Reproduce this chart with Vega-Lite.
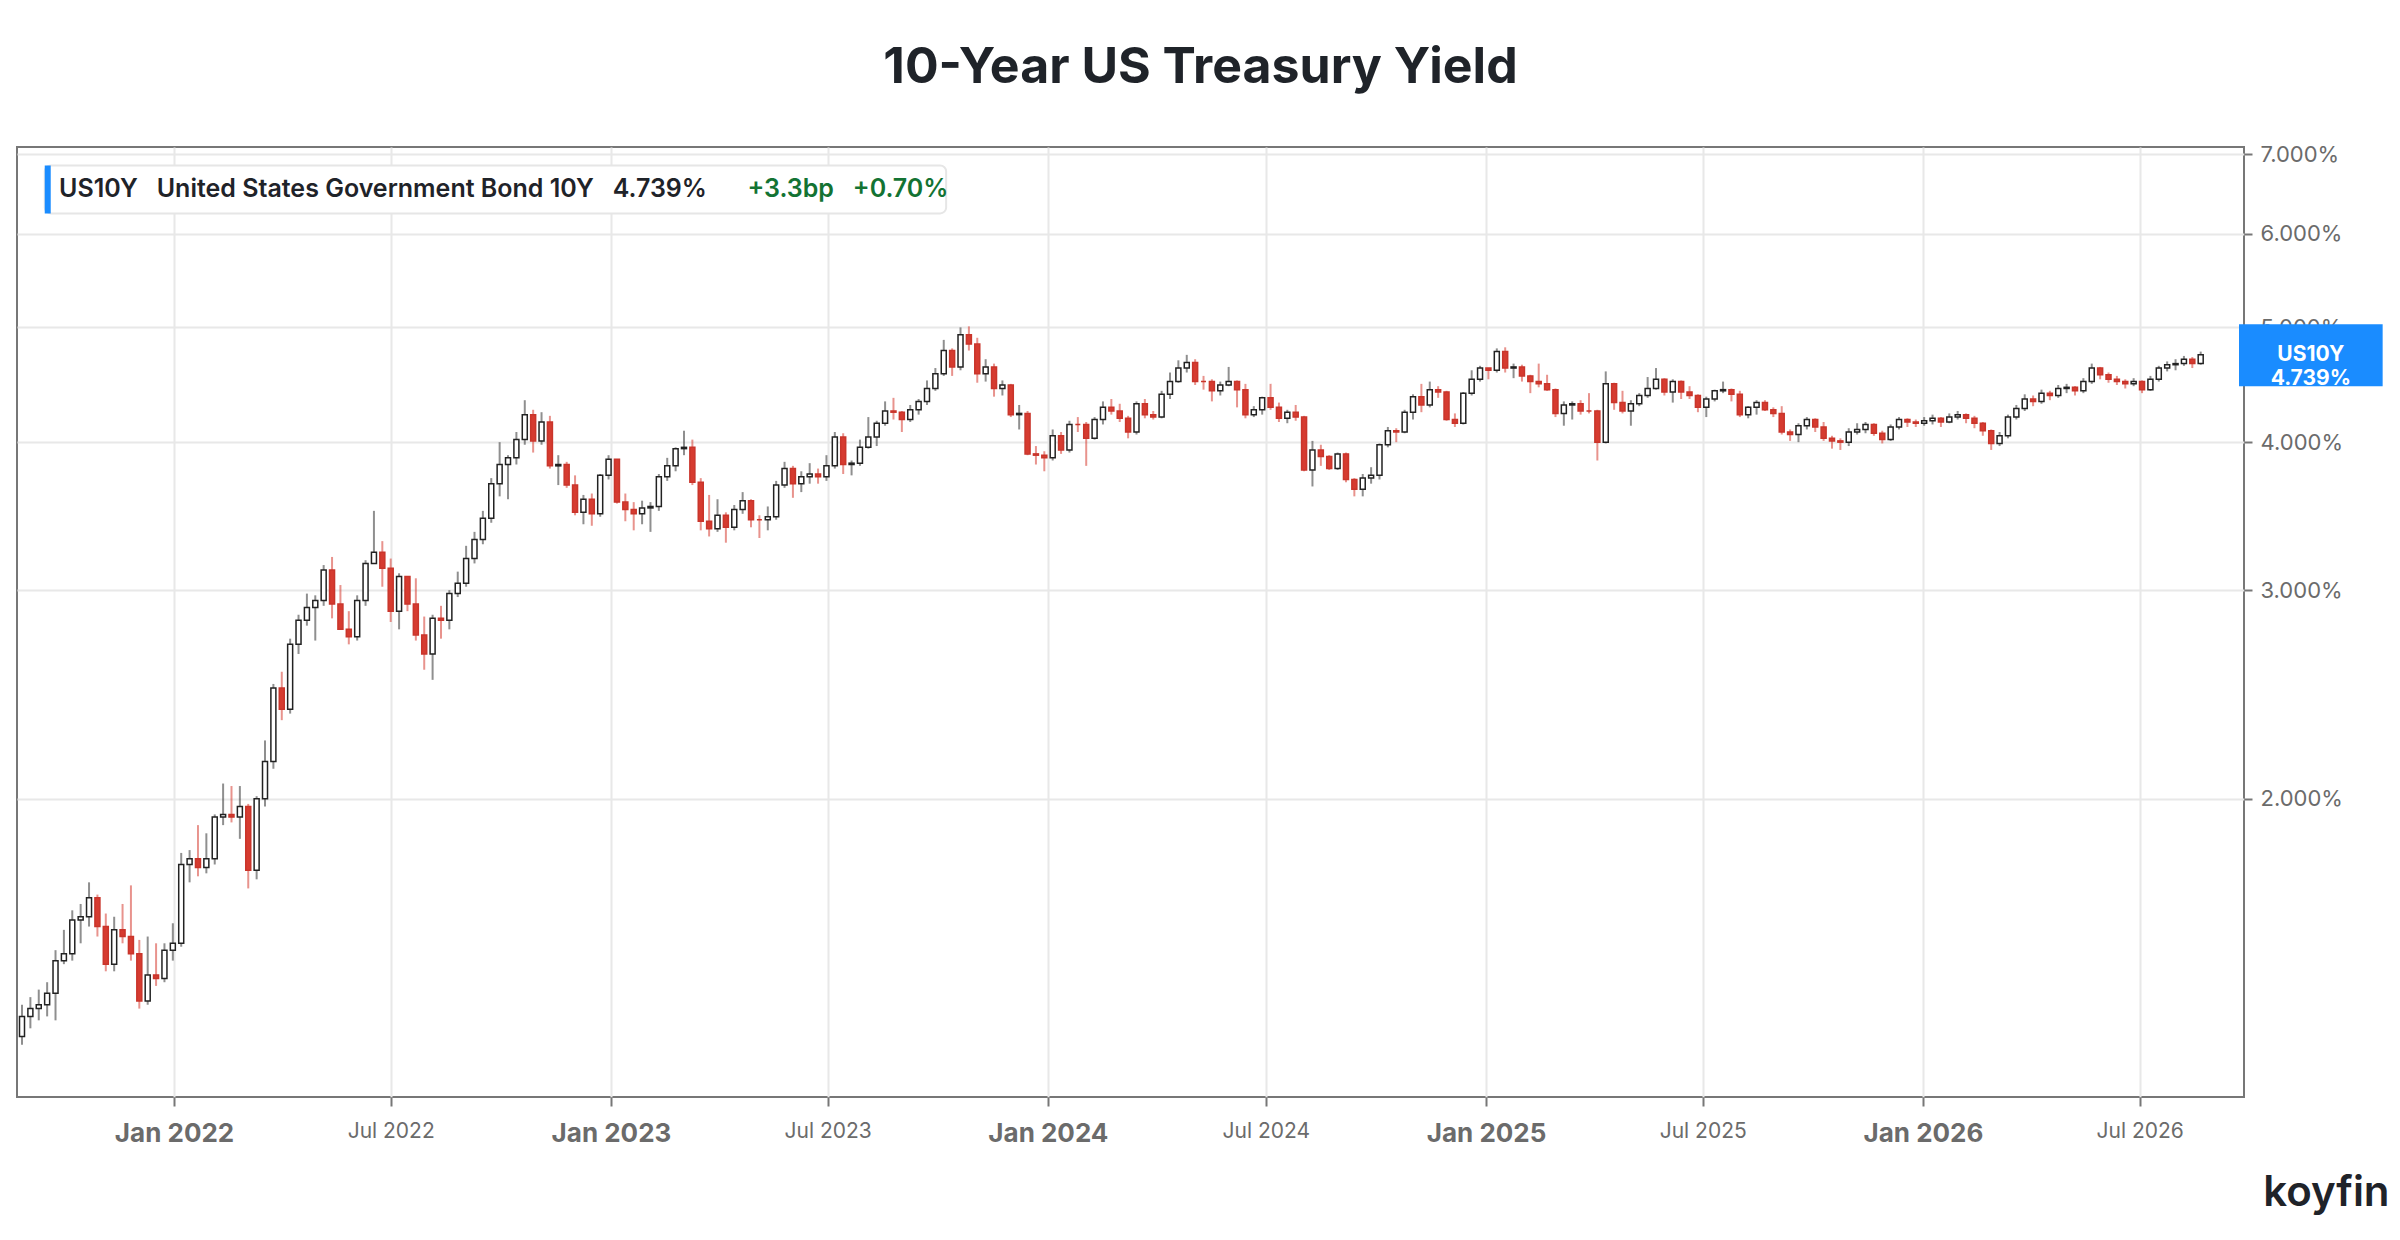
{
  "$schema": "https://vega.github.io/schema/vega-lite/v6.json",
  "width": 2227,
  "height": 950,
  "autosize": "none",
  "padding": {"left": 17, "top": 147, "right": 156, "bottom": 143},
  "background": "#ffffff",
  "title": {"text": "10-Year US Treasury Yield", "font": "Inter", "fontSize": 50, "fontWeight": 700, "color": "#1f2329", "anchor": "middle", "offset": 50, "dx": 70},
  "config": {"view": {"stroke": "#777777", "strokeWidth": 2}, "font": "Inter"},
  "datasets": {
    "candles": [
      {"d":"2021-08-20","o":1.24,"h":1.29,"l":1.22,"c":1.26},
      {"d":"2021-08-27","o":1.26,"h":1.34,"l":1.24,"c":1.31},
      {"d":"2021-09-03","o":1.31,"h":1.36,"l":1.28,"c":1.33},
      {"d":"2021-09-10","o":1.33,"h":1.38,"l":1.30,"c":1.34},
      {"d":"2021-09-17","o":1.34,"h":1.40,"l":1.31,"c":1.37},
      {"d":"2021-09-24","o":1.37,"h":1.49,"l":1.30,"c":1.46},
      {"d":"2021-10-01","o":1.46,"h":1.55,"l":1.45,"c":1.48},
      {"d":"2021-10-08","o":1.48,"h":1.61,"l":1.46,"c":1.58},
      {"d":"2021-10-15","o":1.58,"h":1.63,"l":1.51,"c":1.59},
      {"d":"2021-10-22","o":1.59,"h":1.70,"l":1.56,"c":1.65},
      {"d":"2021-10-29","o":1.65,"h":1.66,"l":1.53,"c":1.56},
      {"d":"2021-11-05","o":1.56,"h":1.60,"l":1.43,"c":1.45},
      {"d":"2021-11-12","o":1.45,"h":1.59,"l":1.43,"c":1.55},
      {"d":"2021-11-19","o":1.55,"h":1.63,"l":1.51,"c":1.53},
      {"d":"2021-11-26","o":1.53,"h":1.69,"l":1.46,"c":1.48},
      {"d":"2021-12-03","o":1.48,"h":1.52,"l":1.33,"c":1.35},
      {"d":"2021-12-10","o":1.35,"h":1.53,"l":1.34,"c":1.42},
      {"d":"2021-12-17","o":1.42,"h":1.51,"l":1.39,"c":1.41},
      {"d":"2021-12-24","o":1.41,"h":1.51,"l":1.40,"c":1.49},
      {"d":"2021-12-31","o":1.49,"h":1.57,"l":1.46,"c":1.51},
      {"d":"2022-01-07","o":1.51,"h":1.80,"l":1.50,"c":1.76},
      {"d":"2022-01-14","o":1.76,"h":1.81,"l":1.70,"c":1.78},
      {"d":"2022-01-21","o":1.78,"h":1.90,"l":1.72,"c":1.75},
      {"d":"2022-01-28","o":1.75,"h":1.87,"l":1.73,"c":1.78},
      {"d":"2022-02-04","o":1.78,"h":1.94,"l":1.76,"c":1.93},
      {"d":"2022-02-11","o":1.93,"h":2.06,"l":1.90,"c":1.94},
      {"d":"2022-02-18","o":1.94,"h":2.05,"l":1.91,"c":1.93},
      {"d":"2022-02-25","o":1.93,"h":2.05,"l":1.85,"c":1.97},
      {"d":"2022-03-04","o":1.97,"h":1.98,"l":1.68,"c":1.74},
      {"d":"2022-03-11","o":1.74,"h":2.01,"l":1.71,"c":2.00},
      {"d":"2022-03-18","o":2.00,"h":2.24,"l":1.97,"c":2.15},
      {"d":"2022-03-25","o":2.15,"h":2.50,"l":2.12,"c":2.48},
      {"d":"2022-04-01","o":2.48,"h":2.56,"l":2.33,"c":2.38},
      {"d":"2022-04-08","o":2.38,"h":2.73,"l":2.36,"c":2.70},
      {"d":"2022-04-15","o":2.70,"h":2.86,"l":2.65,"c":2.83},
      {"d":"2022-04-22","o":2.83,"h":2.98,"l":2.80,"c":2.90},
      {"d":"2022-04-29","o":2.90,"h":2.97,"l":2.72,"c":2.94},
      {"d":"2022-05-06","o":2.94,"h":3.15,"l":2.91,"c":3.12},
      {"d":"2022-05-13","o":3.12,"h":3.20,"l":2.84,"c":2.92},
      {"d":"2022-05-20","o":2.92,"h":3.03,"l":2.78,"c":2.78},
      {"d":"2022-05-27","o":2.78,"h":2.88,"l":2.70,"c":2.74},
      {"d":"2022-06-03","o":2.74,"h":2.97,"l":2.72,"c":2.94},
      {"d":"2022-06-10","o":2.94,"h":3.18,"l":2.91,"c":3.16},
      {"d":"2022-06-17","o":3.16,"h":3.50,"l":3.16,"c":3.23},
      {"d":"2022-06-24","o":3.23,"h":3.30,"l":3.02,"c":3.13},
      {"d":"2022-07-01","o":3.13,"h":3.19,"l":2.82,"c":2.88},
      {"d":"2022-07-08","o":2.88,"h":3.10,"l":2.78,"c":3.08},
      {"d":"2022-07-15","o":3.08,"h":3.07,"l":2.88,"c":2.92},
      {"d":"2022-07-22","o":2.92,"h":3.07,"l":2.72,"c":2.75},
      {"d":"2022-07-29","o":2.75,"h":2.85,"l":2.57,"c":2.65},
      {"d":"2022-08-05","o":2.65,"h":2.86,"l":2.52,"c":2.84},
      {"d":"2022-08-12","o":2.84,"h":2.91,"l":2.73,"c":2.83},
      {"d":"2022-08-19","o":2.83,"h":3.00,"l":2.78,"c":2.98},
      {"d":"2022-08-26","o":2.98,"h":3.11,"l":2.96,"c":3.04},
      {"d":"2022-09-02","o":3.04,"h":3.27,"l":3.02,"c":3.19},
      {"d":"2022-09-09","o":3.19,"h":3.36,"l":3.16,"c":3.31},
      {"d":"2022-09-16","o":3.31,"h":3.50,"l":3.28,"c":3.45},
      {"d":"2022-09-23","o":3.45,"h":3.73,"l":3.42,"c":3.69},
      {"d":"2022-09-30","o":3.69,"h":4.00,"l":3.60,"c":3.83},
      {"d":"2022-10-07","o":3.83,"h":3.90,"l":3.58,"c":3.88},
      {"d":"2022-10-14","o":3.88,"h":4.08,"l":3.83,"c":4.02},
      {"d":"2022-10-21","o":4.02,"h":4.34,"l":3.98,"c":4.22},
      {"d":"2022-10-28","o":4.22,"h":4.26,"l":3.92,"c":4.01},
      {"d":"2022-11-04","o":4.01,"h":4.24,"l":3.98,"c":4.16},
      {"d":"2022-11-11","o":4.16,"h":4.21,"l":3.80,"c":3.82},
      {"d":"2022-11-18","o":3.82,"h":3.90,"l":3.68,"c":3.83},
      {"d":"2022-11-25","o":3.83,"h":3.85,"l":3.66,"c":3.68},
      {"d":"2022-12-02","o":3.68,"h":3.75,"l":3.47,"c":3.49},
      {"d":"2022-12-09","o":3.49,"h":3.61,"l":3.41,"c":3.58},
      {"d":"2022-12-16","o":3.58,"h":3.62,"l":3.40,"c":3.48},
      {"d":"2022-12-23","o":3.48,"h":3.76,"l":3.46,"c":3.75},
      {"d":"2022-12-30","o":3.75,"h":3.90,"l":3.72,"c":3.87},
      {"d":"2023-01-06","o":3.87,"h":3.81,"l":3.55,"c":3.56},
      {"d":"2023-01-13","o":3.56,"h":3.62,"l":3.43,"c":3.51},
      {"d":"2023-01-20","o":3.51,"h":3.56,"l":3.37,"c":3.48},
      {"d":"2023-01-27","o":3.48,"h":3.57,"l":3.41,"c":3.52},
      {"d":"2023-02-03","o":3.52,"h":3.56,"l":3.36,"c":3.53},
      {"d":"2023-02-10","o":3.53,"h":3.76,"l":3.50,"c":3.74},
      {"d":"2023-02-17","o":3.74,"h":3.88,"l":3.71,"c":3.82},
      {"d":"2023-02-24","o":3.82,"h":3.96,"l":3.78,"c":3.95},
      {"d":"2023-03-03","o":3.95,"h":4.09,"l":3.90,"c":3.96},
      {"d":"2023-03-10","o":3.96,"h":4.02,"l":3.68,"c":3.70},
      {"d":"2023-03-17","o":3.70,"h":3.73,"l":3.37,"c":3.43},
      {"d":"2023-03-24","o":3.43,"h":3.61,"l":3.33,"c":3.38},
      {"d":"2023-03-31","o":3.38,"h":3.58,"l":3.36,"c":3.47},
      {"d":"2023-04-07","o":3.47,"h":3.49,"l":3.29,"c":3.39},
      {"d":"2023-04-14","o":3.39,"h":3.54,"l":3.37,"c":3.51},
      {"d":"2023-04-21","o":3.51,"h":3.63,"l":3.48,"c":3.57},
      {"d":"2023-04-28","o":3.57,"h":3.58,"l":3.39,"c":3.44},
      {"d":"2023-05-05","o":3.44,"h":3.47,"l":3.32,"c":3.44},
      {"d":"2023-05-12","o":3.44,"h":3.53,"l":3.37,"c":3.46},
      {"d":"2023-05-19","o":3.46,"h":3.71,"l":3.44,"c":3.68},
      {"d":"2023-05-26","o":3.68,"h":3.85,"l":3.66,"c":3.80},
      {"d":"2023-06-02","o":3.80,"h":3.82,"l":3.59,"c":3.69},
      {"d":"2023-06-09","o":3.69,"h":3.78,"l":3.63,"c":3.74},
      {"d":"2023-06-16","o":3.74,"h":3.84,"l":3.69,"c":3.76},
      {"d":"2023-06-23","o":3.76,"h":3.80,"l":3.69,"c":3.74},
      {"d":"2023-06-30","o":3.74,"h":3.90,"l":3.71,"c":3.82},
      {"d":"2023-07-07","o":3.82,"h":4.08,"l":3.80,"c":4.04},
      {"d":"2023-07-14","o":4.04,"h":4.07,"l":3.76,"c":3.83},
      {"d":"2023-07-21","o":3.83,"h":3.86,"l":3.75,"c":3.84},
      {"d":"2023-07-28","o":3.84,"h":4.02,"l":3.82,"c":3.96},
      {"d":"2023-08-04","o":3.96,"h":4.20,"l":3.95,"c":4.04},
      {"d":"2023-08-11","o":4.04,"h":4.17,"l":3.97,"c":4.15},
      {"d":"2023-08-18","o":4.15,"h":4.33,"l":4.13,"c":4.25},
      {"d":"2023-08-25","o":4.25,"h":4.36,"l":4.18,"c":4.24},
      {"d":"2023-09-01","o":4.24,"h":4.25,"l":4.08,"c":4.18},
      {"d":"2023-09-08","o":4.18,"h":4.30,"l":4.16,"c":4.26},
      {"d":"2023-09-15","o":4.26,"h":4.35,"l":4.22,"c":4.33},
      {"d":"2023-09-22","o":4.33,"h":4.51,"l":4.30,"c":4.44},
      {"d":"2023-09-29","o":4.44,"h":4.62,"l":4.42,"c":4.57},
      {"d":"2023-10-06","o":4.57,"h":4.88,"l":4.55,"c":4.78},
      {"d":"2023-10-13","o":4.78,"h":4.80,"l":4.55,"c":4.63},
      {"d":"2023-10-20","o":4.63,"h":5.00,"l":4.60,"c":4.93},
      {"d":"2023-10-27","o":4.93,"h":5.01,"l":4.78,"c":4.84},
      {"d":"2023-11-03","o":4.84,"h":4.90,"l":4.49,"c":4.57},
      {"d":"2023-11-10","o":4.57,"h":4.70,"l":4.50,"c":4.63},
      {"d":"2023-11-17","o":4.63,"h":4.66,"l":4.37,"c":4.44},
      {"d":"2023-11-24","o":4.44,"h":4.51,"l":4.38,"c":4.47},
      {"d":"2023-12-01","o":4.47,"h":4.48,"l":4.20,"c":4.22},
      {"d":"2023-12-08","o":4.22,"h":4.30,"l":4.10,"c":4.23},
      {"d":"2023-12-15","o":4.23,"h":4.25,"l":3.90,"c":3.91},
      {"d":"2023-12-22","o":3.91,"h":3.97,"l":3.83,"c":3.90},
      {"d":"2023-12-29","o":3.90,"h":3.93,"l":3.78,"c":3.88},
      {"d":"2024-01-05","o":3.88,"h":4.10,"l":3.86,"c":4.05},
      {"d":"2024-01-12","o":4.05,"h":4.08,"l":3.91,"c":3.94},
      {"d":"2024-01-19","o":3.94,"h":4.17,"l":3.92,"c":4.14},
      {"d":"2024-01-26","o":4.14,"h":4.20,"l":4.08,"c":4.14},
      {"d":"2024-02-02","o":4.14,"h":4.16,"l":3.82,"c":4.03},
      {"d":"2024-02-09","o":4.03,"h":4.20,"l":4.02,"c":4.18},
      {"d":"2024-02-16","o":4.18,"h":4.33,"l":4.14,"c":4.28},
      {"d":"2024-02-23","o":4.28,"h":4.35,"l":4.22,"c":4.25},
      {"d":"2024-03-01","o":4.25,"h":4.31,"l":4.16,"c":4.19},
      {"d":"2024-03-08","o":4.19,"h":4.21,"l":4.03,"c":4.08},
      {"d":"2024-03-15","o":4.08,"h":4.33,"l":4.06,"c":4.31},
      {"d":"2024-03-22","o":4.31,"h":4.35,"l":4.19,"c":4.22},
      {"d":"2024-03-29","o":4.22,"h":4.25,"l":4.18,"c":4.20},
      {"d":"2024-04-05","o":4.20,"h":4.42,"l":4.19,"c":4.39},
      {"d":"2024-04-12","o":4.39,"h":4.58,"l":4.35,"c":4.50},
      {"d":"2024-04-19","o":4.50,"h":4.69,"l":4.49,"c":4.62},
      {"d":"2024-04-26","o":4.62,"h":4.74,"l":4.58,"c":4.67},
      {"d":"2024-05-03","o":4.67,"h":4.70,"l":4.47,"c":4.50},
      {"d":"2024-05-10","o":4.50,"h":4.55,"l":4.43,"c":4.50},
      {"d":"2024-05-17","o":4.50,"h":4.52,"l":4.33,"c":4.42},
      {"d":"2024-05-24","o":4.42,"h":4.50,"l":4.38,"c":4.47},
      {"d":"2024-05-31","o":4.47,"h":4.63,"l":4.46,"c":4.50},
      {"d":"2024-06-07","o":4.50,"h":4.51,"l":4.28,"c":4.43},
      {"d":"2024-06-14","o":4.43,"h":4.48,"l":4.19,"c":4.22},
      {"d":"2024-06-21","o":4.22,"h":4.29,"l":4.20,"c":4.26},
      {"d":"2024-06-28","o":4.26,"h":4.37,"l":4.22,"c":4.36},
      {"d":"2024-07-05","o":4.36,"h":4.48,"l":4.26,"c":4.28},
      {"d":"2024-07-12","o":4.28,"h":4.32,"l":4.16,"c":4.19},
      {"d":"2024-07-19","o":4.19,"h":4.26,"l":4.15,"c":4.24},
      {"d":"2024-07-26","o":4.24,"h":4.30,"l":4.17,"c":4.20},
      {"d":"2024-08-02","o":4.20,"h":4.21,"l":3.78,"c":3.79},
      {"d":"2024-08-09","o":3.79,"h":4.01,"l":3.67,"c":3.94},
      {"d":"2024-08-16","o":3.94,"h":3.98,"l":3.82,"c":3.89},
      {"d":"2024-08-23","o":3.89,"h":3.90,"l":3.79,"c":3.80},
      {"d":"2024-08-30","o":3.80,"h":3.92,"l":3.79,"c":3.91},
      {"d":"2024-09-06","o":3.91,"h":3.92,"l":3.70,"c":3.72},
      {"d":"2024-09-13","o":3.72,"h":3.73,"l":3.60,"c":3.65},
      {"d":"2024-09-20","o":3.65,"h":3.76,"l":3.60,"c":3.73},
      {"d":"2024-09-27","o":3.73,"h":3.81,"l":3.69,"c":3.75},
      {"d":"2024-10-04","o":3.75,"h":3.99,"l":3.72,"c":3.98},
      {"d":"2024-10-11","o":3.98,"h":4.12,"l":3.96,"c":4.09},
      {"d":"2024-10-18","o":4.09,"h":4.11,"l":4.00,"c":4.08},
      {"d":"2024-10-25","o":4.08,"h":4.26,"l":4.07,"c":4.24},
      {"d":"2024-11-01","o":4.24,"h":4.39,"l":4.18,"c":4.37},
      {"d":"2024-11-08","o":4.37,"h":4.48,"l":4.24,"c":4.30},
      {"d":"2024-11-15","o":4.30,"h":4.50,"l":4.28,"c":4.43},
      {"d":"2024-11-22","o":4.43,"h":4.46,"l":4.36,"c":4.41},
      {"d":"2024-11-29","o":4.41,"h":4.42,"l":4.17,"c":4.18},
      {"d":"2024-12-06","o":4.18,"h":4.23,"l":4.12,"c":4.15},
      {"d":"2024-12-13","o":4.15,"h":4.41,"l":4.14,"c":4.40},
      {"d":"2024-12-20","o":4.40,"h":4.60,"l":4.38,"c":4.52},
      {"d":"2024-12-27","o":4.52,"h":4.64,"l":4.50,"c":4.62},
      {"d":"2025-01-03","o":4.62,"h":4.62,"l":4.52,"c":4.60},
      {"d":"2025-01-10","o":4.60,"h":4.80,"l":4.58,"c":4.77},
      {"d":"2025-01-17","o":4.77,"h":4.81,"l":4.58,"c":4.62},
      {"d":"2025-01-24","o":4.62,"h":4.66,"l":4.53,"c":4.63},
      {"d":"2025-01-31","o":4.63,"h":4.65,"l":4.50,"c":4.55},
      {"d":"2025-02-07","o":4.55,"h":4.56,"l":4.40,"c":4.50},
      {"d":"2025-02-14","o":4.50,"h":4.66,"l":4.45,"c":4.48},
      {"d":"2025-02-21","o":4.48,"h":4.56,"l":4.42,"c":4.43},
      {"d":"2025-02-28","o":4.43,"h":4.44,"l":4.20,"c":4.23},
      {"d":"2025-03-07","o":4.23,"h":4.33,"l":4.13,"c":4.30},
      {"d":"2025-03-14","o":4.30,"h":4.33,"l":4.18,"c":4.31},
      {"d":"2025-03-21","o":4.31,"h":4.34,"l":4.22,"c":4.25},
      {"d":"2025-03-28","o":4.25,"h":4.40,"l":4.23,"c":4.25},
      {"d":"2025-04-04","o":4.25,"h":4.26,"l":3.86,"c":4.00},
      {"d":"2025-04-11","o":4.00,"h":4.59,"l":3.99,"c":4.48},
      {"d":"2025-04-18","o":4.48,"h":4.49,"l":4.26,"c":4.32},
      {"d":"2025-04-25","o":4.32,"h":4.42,"l":4.23,"c":4.25},
      {"d":"2025-05-02","o":4.25,"h":4.34,"l":4.13,"c":4.31},
      {"d":"2025-05-09","o":4.31,"h":4.40,"l":4.29,"c":4.38},
      {"d":"2025-05-16","o":4.38,"h":4.54,"l":4.36,"c":4.44},
      {"d":"2025-05-23","o":4.44,"h":4.62,"l":4.43,"c":4.52},
      {"d":"2025-05-30","o":4.52,"h":4.53,"l":4.38,"c":4.41},
      {"d":"2025-06-06","o":4.41,"h":4.52,"l":4.32,"c":4.50},
      {"d":"2025-06-13","o":4.50,"h":4.51,"l":4.35,"c":4.41},
      {"d":"2025-06-20","o":4.41,"h":4.46,"l":4.35,"c":4.38},
      {"d":"2025-06-27","o":4.38,"h":4.39,"l":4.24,"c":4.28},
      {"d":"2025-07-04","o":4.28,"h":4.37,"l":4.20,"c":4.35},
      {"d":"2025-07-11","o":4.35,"h":4.43,"l":4.33,"c":4.42},
      {"d":"2025-07-18","o":4.42,"h":4.50,"l":4.40,"c":4.43},
      {"d":"2025-07-25","o":4.43,"h":4.44,"l":4.33,"c":4.39},
      {"d":"2025-08-01","o":4.39,"h":4.42,"l":4.20,"c":4.22},
      {"d":"2025-08-08","o":4.22,"h":4.29,"l":4.19,"c":4.28},
      {"d":"2025-08-15","o":4.28,"h":4.34,"l":4.22,"c":4.32},
      {"d":"2025-08-22","o":4.32,"h":4.34,"l":4.25,"c":4.26},
      {"d":"2025-08-29","o":4.26,"h":4.28,"l":4.20,"c":4.23},
      {"d":"2025-09-05","o":4.23,"h":4.29,"l":4.06,"c":4.08},
      {"d":"2025-09-12","o":4.08,"h":4.10,"l":4.01,"c":4.06},
      {"d":"2025-09-19","o":4.06,"h":4.15,"l":4.00,"c":4.13},
      {"d":"2025-09-26","o":4.13,"h":4.20,"l":4.10,"c":4.18},
      {"d":"2025-10-03","o":4.18,"h":4.19,"l":4.08,"c":4.12},
      {"d":"2025-10-10","o":4.12,"h":4.16,"l":4.01,"c":4.03},
      {"d":"2025-10-17","o":4.03,"h":4.05,"l":3.95,"c":4.01},
      {"d":"2025-10-24","o":4.01,"h":4.03,"l":3.94,"c":4.00},
      {"d":"2025-10-31","o":4.00,"h":4.11,"l":3.97,"c":4.08},
      {"d":"2025-11-07","o":4.08,"h":4.15,"l":4.06,"c":4.10},
      {"d":"2025-11-14","o":4.10,"h":4.16,"l":4.07,"c":4.14},
      {"d":"2025-11-21","o":4.14,"h":4.15,"l":4.05,"c":4.07},
      {"d":"2025-11-28","o":4.07,"h":4.09,"l":3.99,"c":4.02},
      {"d":"2025-12-05","o":4.02,"h":4.14,"l":4.01,"c":4.12},
      {"d":"2025-12-12","o":4.12,"h":4.20,"l":4.10,"c":4.18},
      {"d":"2025-12-19","o":4.18,"h":4.19,"l":4.12,"c":4.16},
      {"d":"2025-12-26","o":4.16,"h":4.18,"l":4.12,"c":4.15},
      {"d":"2026-01-02","o":4.15,"h":4.20,"l":4.13,"c":4.17},
      {"d":"2026-01-09","o":4.17,"h":4.22,"l":4.14,"c":4.19},
      {"d":"2026-01-16","o":4.19,"h":4.20,"l":4.12,"c":4.16},
      {"d":"2026-01-23","o":4.16,"h":4.23,"l":4.15,"c":4.20},
      {"d":"2026-01-30","o":4.20,"h":4.25,"l":4.18,"c":4.22},
      {"d":"2026-02-06","o":4.22,"h":4.23,"l":4.15,"c":4.19},
      {"d":"2026-02-13","o":4.19,"h":4.21,"l":4.11,"c":4.15},
      {"d":"2026-02-20","o":4.15,"h":4.16,"l":4.05,"c":4.09},
      {"d":"2026-02-27","o":4.09,"h":4.10,"l":3.94,"c":3.99},
      {"d":"2026-03-06","o":3.99,"h":4.08,"l":3.97,"c":4.05},
      {"d":"2026-03-13","o":4.05,"h":4.22,"l":4.03,"c":4.20},
      {"d":"2026-03-20","o":4.20,"h":4.30,"l":4.18,"c":4.27},
      {"d":"2026-03-27","o":4.27,"h":4.39,"l":4.25,"c":4.35},
      {"d":"2026-04-03","o":4.35,"h":4.38,"l":4.29,"c":4.33},
      {"d":"2026-04-10","o":4.33,"h":4.43,"l":4.31,"c":4.40},
      {"d":"2026-04-17","o":4.40,"h":4.42,"l":4.34,"c":4.38},
      {"d":"2026-04-24","o":4.38,"h":4.47,"l":4.36,"c":4.44},
      {"d":"2026-05-01","o":4.44,"h":4.48,"l":4.40,"c":4.45},
      {"d":"2026-05-08","o":4.45,"h":4.46,"l":4.38,"c":4.42},
      {"d":"2026-05-15","o":4.42,"h":4.53,"l":4.40,"c":4.50},
      {"d":"2026-05-22","o":4.50,"h":4.66,"l":4.48,"c":4.62},
      {"d":"2026-05-29","o":4.62,"h":4.63,"l":4.52,"c":4.56},
      {"d":"2026-06-05","o":4.56,"h":4.58,"l":4.49,"c":4.52},
      {"d":"2026-06-12","o":4.52,"h":4.55,"l":4.47,"c":4.50},
      {"d":"2026-06-19","o":4.50,"h":4.52,"l":4.44,"c":4.48},
      {"d":"2026-06-26","o":4.48,"h":4.53,"l":4.46,"c":4.50},
      {"d":"2026-07-03","o":4.50,"h":4.51,"l":4.40,"c":4.43},
      {"d":"2026-07-10","o":4.43,"h":4.55,"l":4.42,"c":4.52},
      {"d":"2026-07-17","o":4.52,"h":4.64,"l":4.50,"c":4.62},
      {"d":"2026-07-24","o":4.62,"h":4.68,"l":4.59,"c":4.65},
      {"d":"2026-07-31","o":4.65,"h":4.70,"l":4.60,"c":4.66},
      {"d":"2026-08-07","o":4.66,"h":4.73,"l":4.64,"c":4.70},
      {"d":"2026-08-14","o":4.70,"h":4.72,"l":4.62,"c":4.66},
      {"d":"2026-08-21","o":4.66,"h":4.77,"l":4.65,"c":4.74}
    ],
    "notes": [
      {"kind": "legendbox", "x": "2021-09-15", "x2": "2023-10-08", "y": 6.85, "y2": 6.24},
      {"kind": "accent", "x": "2021-09-15", "x2": "2021-09-20", "y": 6.85, "y2": 6.24},
      {"kind": "pricebox", "x": "2026-09-22", "x2": "2027-01-20", "y": 5.03, "y2": 4.46}
    ],
    "texts": [
      {"t": "US10Y\u00a0\u00a0\u00a0United States Government Bond 10Y\u00a0\u00a0\u00a04.739%", "x": "2021-09-27", "y": 6.54, "c": "#1f2329"},
      {"t": "+3.3bp\u00a0\u00a0\u00a0+0.70%", "x": "2023-04-25", "y": 6.54, "c": "#137333"}
    ],
    "labels": [
      {"t": ["US10Y", "4.739%"], "x": "2026-11-21", "y": 4.74}
    ],
    "logo": [
      {"t": "koyfin", "x": "2026-12-04", "y": 0.93}
    ]
  },
  "layer": [
    {
      "data": {"name": "notes"},
      "transform": [{"filter": "datum.kind == 'legendbox'"}],
      "mark": {"type": "rect", "fill": "#ffffff", "stroke": "#e6e6e6", "strokeWidth": 2, "cornerRadius": 6},
      "encoding": {
        "x": {"field": "x", "type": "temporal"},
        "x2": {"field": "x2"},
        "y": {"field": "y", "type": "quantitative"},
        "y2": {"field": "y2"}
      }
    },
    {
      "data": {"name": "notes"},
      "transform": [{"filter": "datum.kind != 'legendbox'"}],
      "mark": {"type": "rect", "fill": "#1a8cff", "clip": false},
      "encoding": {
        "x": {"field": "x", "type": "temporal"},
        "x2": {"field": "x2"},
        "y": {"field": "y", "type": "quantitative"},
        "y2": {"field": "y2"}
      }
    },
    {
      "data": {"name": "texts"},
      "mark": {"type": "text", "align": "left", "baseline": "middle", "fontSize": 25, "fontWeight": 600, "font": "Inter"},
      "encoding": {
        "x": {"field": "x", "type": "temporal"},
        "y": {"field": "y", "type": "quantitative"},
        "text": {"field": "t"},
        "color": {"field": "c", "type": "nominal", "scale": null}
      }
    },
    {
      "data": {"name": "labels"},
      "mark": {"type": "text", "align": "center", "baseline": "middle", "font": "Inter", "fontSize": 21, "fontWeight": 700, "color": "#ffffff", "lineHeight": 24, "clip": false},
      "encoding": {
        "x": {"field": "x", "type": "temporal"},
        "y": {"field": "y", "type": "quantitative"},
        "text": {"field": "t"}
      }
    },
    {
      "data": {"name": "logo"},
      "mark": {"type": "text", "align": "center", "baseline": "middle", "font": "Inter", "fontSize": 42, "fontWeight": 600, "color": "#1f2329", "clip": false},
      "encoding": {
        "x": {"field": "x", "type": "temporal"},
        "y": {"field": "y", "type": "quantitative"},
        "text": {"field": "t"}
      }
    },
    {
      "data": {"name": "candles"},
      "encoding": {
        "x": {
          "field": "d", "type": "temporal", "title": null,
          "scale": {"domain": ["2021-08-27", "2026-09-22"]},
          "axis": {
            "values": [
              {"year": 2022, "month": 1, "date": 1}, {"year": 2022, "month": 7, "date": 1},
              {"year": 2023, "month": 1, "date": 1}, {"year": 2023, "month": 7, "date": 1},
              {"year": 2024, "month": 1, "date": 1}, {"year": 2024, "month": 7, "date": 1},
              {"year": 2025, "month": 1, "date": 1}, {"year": 2025, "month": 7, "date": 1},
              {"year": 2026, "month": 1, "date": 1}, {"year": 2026, "month": 7, "date": 1}
            ],
            "labelExpr": "timeFormat(datum.value, '%b %Y')",
            "labelFontSize": {"condition": {"test": "month(datum.value) == 0", "value": 26}, "value": 21},
            "labelFontWeight": {"condition": {"test": "month(datum.value) == 0", "value": 700}, "value": 400},
            "labelColor": "#6b6b6b", "labelPadding": 14,
            "domain": false, "tickColor": "#777777", "tickSize": 9, "tickWidth": 2,
            "gridColor": "#e8e8e8", "gridWidth": 2
          }
        },
        "color": {"condition": {"test": "datum.c > datum.o", "value": "#333333"}, "value": "#d63b30"}
      },
      "layer": [
        {
          "mark": {"type": "rule", "strokeWidth": 2, "opacity": 0.55, "clip": true},
          "encoding": {
            "y": {"field": "l", "type": "quantitative"},
            "y2": {"field": "h"}
          }
        },
        {
          "mark": {"type": "bar", "size": 5, "strokeWidth": 1.5, "clip": true},
          "encoding": {
            "y": {
              "field": "o", "type": "quantitative", "title": null,
              "scale": {"type": "log", "domain": [1.12, 7.1], "nice": false, "zero": false},
              "axis": {
                "orient": "right", "values": [2, 3, 4, 5, 6, 7],
                "labelExpr": "format(datum.value, '.3f') + '%'",
                "labelFontSize": 22, "labelColor": "#6b6b6b", "labelPadding": 8,
                "domain": false, "tickColor": "#777777", "tickSize": 8, "tickWidth": 2,
                "gridColor": "#e8e8e8", "gridWidth": 2
              }
            },
            "y2": {"field": "c"},
            "fill": {"condition": {"test": "datum.c > datum.o", "value": "#ffffff"}, "value": "#d63b30"},
            "stroke": {"condition": {"test": "datum.c > datum.o", "value": "#222222"}, "value": "#c9352b"}
          }
        }
      ]
    }
  ]
}
